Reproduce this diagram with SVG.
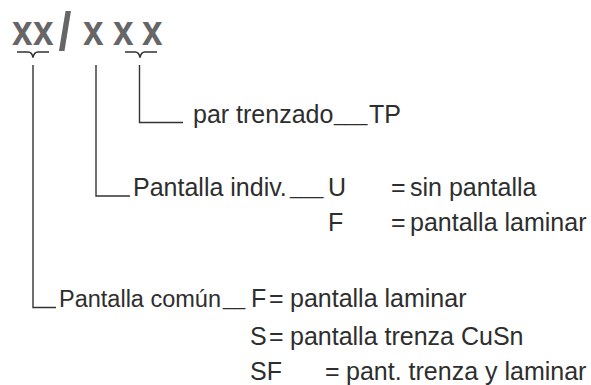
<svg xmlns="http://www.w3.org/2000/svg" width="591" height="385" viewBox="0 0 591 385">
<style>
.t{font-family:"Liberation Sans",Arial,sans-serif;font-size:25px;fill:#2e2e2e}
.t2{font-family:"Liberation Sans",Arial,sans-serif;font-size:23.5px;fill:#2e2e2e}
.u{font-family:"Liberation Sans",Arial,sans-serif;font-size:20px;fill:#2e2e2e}
.code{font-family:"Liberation Sans",Arial,sans-serif;font-size:43px;font-weight:bold;fill:#666}
.ln{fill:none;stroke:#333;stroke-width:1.4}
.br{fill:none;stroke:#333;stroke-width:1.6}
</style>
<rect width="591" height="385" fill="#fff"/>
<g id="code" transform="scale(0.86 1)">
<text class="code" y="45"><tspan x="14">x</tspan><tspan x="38.5">x</tspan><tspan x="68" y="50" style="font-size:54px">/</tspan><tspan x="96.5" y="45">x</tspan><tspan x="131.5">x</tspan><tspan x="165">x</tspan></text>
</g>
<g id="braces">
<path class="br" d="M17,52 H28 Q32,52 33,57.5 Q34,52 38,52 H49"/>
<path class="br" d="M125,52 H135 Q139,52 140,57.5 Q141,52 145,52 H157"/>
</g>
<g id="connectors">
<path class="ln" d="M33,65 V307.5 H56"/>
<path class="ln" d="M96,65 V196 H130"/>
<path class="ln" d="M139.5,65 V122.5 H183"/>
</g>
<g id="node-tp">
<text class="t" x="193" y="123">par trenzado</text>
<text class="u" x="334" y="121">___</text>
<text class="t" x="369" y="123">TP</text>
</g>
<g id="node-indiv">
<text class="t" x="133" y="196">Pantalla indiv.</text>
<text class="u" x="290" y="194">___</text>
<text class="t" x="328" y="196">U</text>
<text class="t" x="391" y="196">=</text>
<text class="t" x="410" y="196">sin pantalla</text>
<text class="t" x="328" y="231">F</text>
<text class="t" x="391" y="231">=</text>
<text class="t" x="410" y="231">pantalla laminar</text>
</g>
<g id="node-comun">
<text class="t2" x="59" y="307">Pantalla común</text>
<text class="u" x="223" y="305">__</text>
<text class="t" x="251" y="307">F</text>
<text class="t" x="269" y="307">=</text>
<text class="t" x="290" y="307">pantalla laminar</text>
<text class="t" x="250" y="345">S</text>
<text class="t" x="269" y="345">=</text>
<text class="t" x="290" y="345">pantalla trenza CuSn</text>
<text class="t" x="250" y="380">SF</text>
<text class="t" x="325" y="380">=</text>
<text class="t" x="346" y="380">pant. trenza y laminar</text>
</g>
</svg>
